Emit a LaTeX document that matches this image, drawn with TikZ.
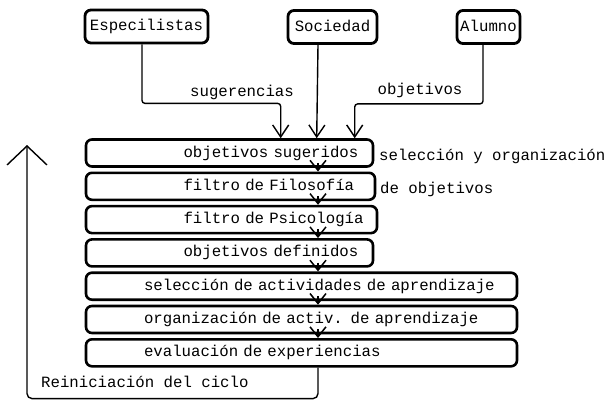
\documentclass[tikz,border=0pt]{standalone}
\usepackage{fontspec}
\setmainfont{Liberation Mono}
\usetikzlibrary{arrows.meta}
\tikzset{
	fuente/.style={draw,line width=2.8pt,rounded corners=6pt,inner xsep=3pt,minimum height=33pt,text height=11pt,text depth=3pt},
	caja/.style={draw,line width=2.6pt,rounded corners=6pt,inner xsep=0pt,align=left,minimum height=27pt,text height=11pt,text depth=3pt},
	texto/.style={inner sep=0pt,text height=11pt,text depth=3pt},
	flecha/.style={line width=1.4pt,rounded corners=3pt,-{Straight Barb[length=12pt,width=16pt]}},
	flechita/.style={line width=1.5pt,-{Straight Barb[length=10pt,width=16pt]}},
	vuelta/.style={line width=1.4pt,rounded corners=5pt,-{Straight Barb[length=19pt,width=40pt]}}
}
\begin{document}
\begin{tikzpicture}[x=1pt,y=-1pt,font=\fontsize{15.7}{18}\selectfont]
			\useasboundingbox (0,0) rectangle (607,400);
			\node[fuente,minimum width=123pt] (esp) at (146.5,26.5) {Especilistas};
			\node[fuente,minimum width=89pt] (soc) at (332.5,27) {Sociedad};
			\node[fuente,minimum width=63pt] (alu) at (488.5,27) {Alumno};
			\node[caja,text width=287pt] (b1) at (229.5,153) {\hspace*{97.5pt}objetivos sugeridos};
			\node[caja,text width=289pt] (b2) at (230.5,186.3) {\hspace*{97.5pt}filtro de Filosofía};
			\node[caja,text width=291pt] (b3) at (231.5,219.6) {\hspace*{97.5pt}filtro de Psicología};
			\node[caja,text width=287pt] (b4) at (229.5,252.9) {\hspace*{97.5pt}objetivos definidos};
			\node[caja,text width=431pt] (b5) at (301.5,286.2) {\hspace*{58pt}selección de actividades de aprendizaje};
			\node[caja,text width=431pt] (b6) at (301.5,319.5) {\hspace*{58pt}organización de activ. de aprendizaje};
			\node[caja,text width=431pt] (b7) at (301.5,352.8) {\hspace*{58pt}evaluación de experiencias};
			\path
			(242,92) node[texto] (sug) {sugerencias}
			(420,90) node[texto] (obj) {objetivos}
			(379,156) node[texto,anchor=west] (sel) {selección y organización}
			(380,189) node[texto,anchor=west] (deo) {de objetivos}
			(41,383) node[texto,anchor=west] (rei) {Reiniciación del ciclo}
			;
			\draw[flecha] ([xshift=-4.5pt]esp.south) -- ++(0,59) -| ([xshift=196pt]b1.north west);
			\draw[flecha] ([xshift=-14.5pt]soc.south) -- ([xshift=232pt]b1.north west);
			\draw[flecha] ([xshift=-5.5pt]alu.south) -- ++(0,59) -| ([xshift=270pt]b1.north west);
			\foreach \a/\b in {b1/b2,b2/b3,b3/b4,b4/b5,b5/b6,b6/b7} \draw[flechita] ([yshift=5pt]318,0 |- \a.south) -- (318,0 |- \b.north);
			\coordinate (cima) at (27,145);
			\draw[vuelta] ([xshift=16.5pt]b7.south) -- ++(0,31) -| (cima);
\end{tikzpicture}
\end{document}
